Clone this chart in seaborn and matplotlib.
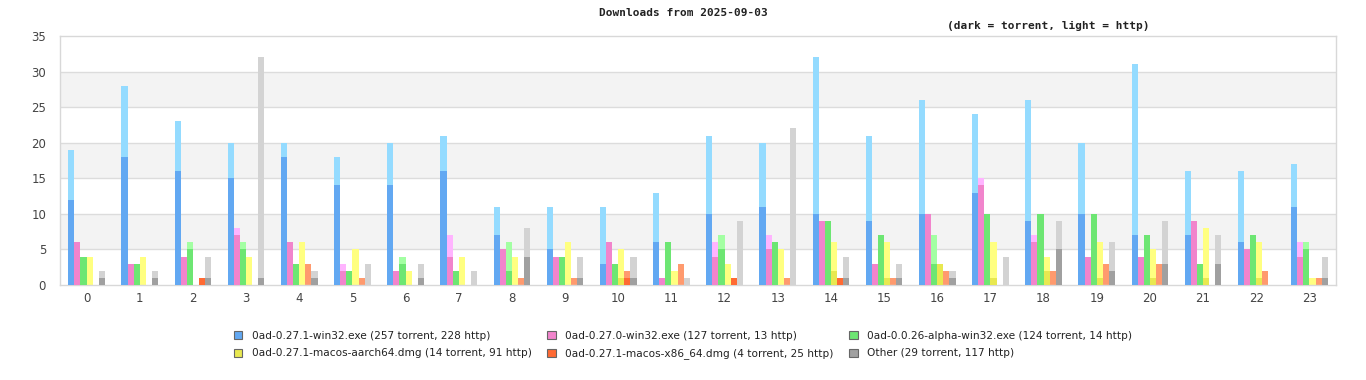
import numpy as np
import pandas as pd
import matplotlib
matplotlib.use("Agg")
import matplotlib.pyplot as plt
import matplotlib.patches as mpatches
import seaborn as sns

hours = list(range(24))

series_names = [
    "0ad-0.27.1-win32.exe (257 torrent, 228 http)",
    "0ad-0.27.0-win32.exe (127 torrent, 13 http)",
    "0ad-0.0.26-alpha-win32.exe (124 torrent, 14 http)",
    "0ad-0.27.1-macos-aarch64.dmg (14 torrent, 91 http)",
    "0ad-0.27.1-macos-x86_64.dmg (4 torrent, 25 http)",
    "Other (29 torrent, 117 http)",
]

# torrent counts per hour
win271_torrent = [12, 18, 16, 15, 18, 14, 14, 16, 7, 5, 3, 6, 10, 11, 10, 9, 10, 13, 9, 10, 7, 7, 6, 11]
win270_torrent = [6, 3, 4, 7, 6, 2, 2, 4, 5, 4, 6, 1, 4, 5, 9, 3, 10, 14, 6, 4, 4, 9, 5, 4]
alpha26_torrent = [4, 3, 5, 5, 3, 2, 3, 2, 2, 4, 3, 6, 5, 6, 9, 7, 3, 10, 10, 10, 7, 3, 7, 5]
aarch64_torrent = [0, 0, 0, 0, 0, 0, 0, 0, 0, 0, 1, 0, 0, 0, 2, 1, 3, 1, 2, 1, 1, 1, 1, 0]
x86_torrent = [0, 0, 1, 0, 0, 0, 0, 0, 0, 0, 1, 0, 1, 0, 1, 0, 0, 0, 0, 0, 0, 0, 0, 0]
other_torrent = [1, 1, 1, 1, 1, 0, 1, 0, 4, 1, 1, 0, 0, 0, 1, 1, 1, 0, 5, 2, 3, 3, 0, 1]

# http counts per hour
win271_http = [7, 10, 7, 5, 2, 4, 6, 5, 4, 6, 8, 7, 11, 9, 22, 12, 16, 11, 17, 10, 24, 9, 10, 6]
win270_http = [0, 0, 0, 1, 0, 1, 0, 3, 0, 0, 0, 0, 2, 2, 0, 0, 0, 1, 1, 0, 0, 0, 0, 2]
alpha26_http = [0, 0, 1, 1, 0, 0, 1, 0, 4, 0, 0, 0, 2, 0, 0, 0, 4, 0, 0, 0, 0, 0, 0, 1]
aarch64_http = [4, 4, 0, 4, 6, 5, 2, 4, 4, 6, 4, 2, 3, 5, 4, 5, 0, 5, 2, 5, 4, 7, 5, 1]
x86_http = [0, 0, 0, 0, 3, 1, 0, 0, 1, 1, 1, 3, 0, 1, 0, 1, 2, 0, 2, 3, 3, 0, 2, 1]
other_http = [1, 1, 3, 31, 1, 3, 2, 2, 4, 3, 3, 1, 9, 22, 3, 2, 1, 4, 4, 4, 6, 4, 0, 3]

dark_colors = ["#62a8f2", "#f184cc", "#6de673", "#e8e850", "#ff6a33", "#a0a0a0"]
light_colors = ["#94dbff", "#ffb4ff", "#a3ffa3", "#ffff80", "#ff9a6e", "#d3d3d3"]

torrents = [win271_torrent, win270_torrent, alpha26_torrent, aarch64_torrent, x86_torrent, other_torrent]
https = [win271_http, win270_http, alpha26_http, aarch64_http, x86_http, other_http]

rows = []
for name, tor, ht in zip(series_names, torrents, https):
    for h, t, w in zip(hours, tor, ht):
        rows.append({"hour": str(h), "series": name, "torrent": t, "total": t + w})
df = pd.DataFrame(rows)

sns.set_theme(style="white")
plt.rcParams["font.family"] = ["DejaVu Sans"]

fig = plt.figure(figsize=(13.66, 3.8), dpi=100)
ax = fig.add_axes([60 / 1366, 1 - 285 / 380, 1276 / 1366, 249 / 380])

# alternating background bands
for lo in (5, 15, 25):
    ax.axhspan(lo, lo + 5, color="#f3f3f3", zorder=0, lw=0)
for y in range(5, 35, 5):
    ax.axhline(y, color="#dcdcdc", lw=1, zorder=0.5)

order = [str(h) for h in hours]
bw = 0.69
sns.barplot(data=df, x="hour", y="total", hue="series", order=order,
            hue_order=series_names, palette=light_colors, errorbar=None,
            width=bw, dodge=True, saturation=1, ax=ax, legend=False,
            linewidth=0, zorder=2)
sns.barplot(data=df, x="hour", y="torrent", hue="series", order=order,
            hue_order=series_names, palette=dark_colors, errorbar=None,
            width=bw, dodge=True, saturation=1, ax=ax, legend=False,
            linewidth=0, zorder=3)

ax.set_xlim(-0.5, 23.5)
ax.set_ylim(0, 35)
ax.set_yticks(range(0, 36, 5))
ax.set_xlabel("")
ax.set_ylabel("")
for s in ax.spines.values():
    s.set_color("#d8d8d8")
    s.set_linewidth(1)
ax.tick_params(axis="both", colors="#444444", labelsize=8.5, length=0, pad=6)
ax.tick_params(axis="y", pad=10)
ax.tick_params(axis="x", pad=5)

fig.text(683 / 1366, 1 - 13 / 380, "Downloads from 2025-09-03", ha="center", va="center",
         family="DejaVu Sans Mono", fontsize=8, fontweight="bold", color="#222222")
fig.text(1048 / 1366, 1 - 26 / 380, "(dark = torrent, light = http)", ha="center", va="center",
         family="DejaVu Sans Mono", fontsize=8, fontweight="bold", color="#222222")

handles = [mpatches.Patch(facecolor=dark_colors[i], edgecolor="#666666", lw=0.8, label=series_names[i])
           for i in range(6)]
# legend: rows of three
leg_order = [0, 3, 1, 4, 2, 5]
fig.legend([handles[i] for i in leg_order], [series_names[i] for i in leg_order],
           ncol=3, loc="center", bbox_to_anchor=(683 / 1366, 1 - 345 / 380),
           frameon=False, fontsize=7.55, handlelength=0.8, handleheight=0.8,
           handletextpad=0.9, columnspacing=1.5, labelspacing=0.7,
           labelcolor="#222222")

fig.savefig("out.png", dpi=100)
